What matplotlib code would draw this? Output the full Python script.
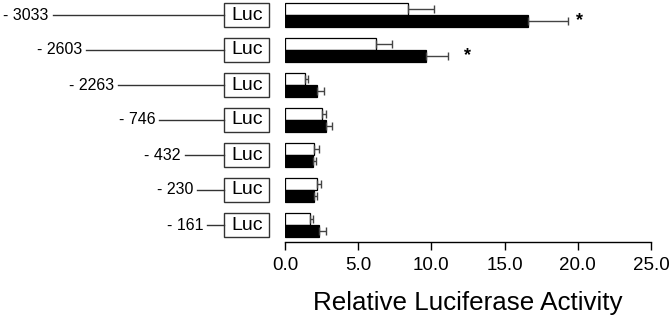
import matplotlib
matplotlib.use("Agg")
import matplotlib.pyplot as plt
import matplotlib.transforms as mtransforms
from matplotlib.patches import Rectangle
import numpy as np

plt.rcParams['font.family'] = ['Liberation Sans', 'DejaVu Sans']

# promoter constructs, top to bottom
constructs = ["- 3033", "- 2603", "- 2263", "- 746", "- 432", "- 230", "- 161"]
white_vals = [8.4, 6.2, 1.37, 2.53, 2.0, 2.16, 1.69]
white_err = [1.8, 1.13, 0.23, 0.27, 0.3, 0.3, 0.2]
black_vals = [16.6, 9.64, 2.2, 2.78, 1.91, 1.98, 2.3]
black_err = [2.7, 1.46, 0.49, 0.43, 0.21, 0.21, 0.5]
star_rows = [0, 1]
star_x = [20.1, 12.5]
xticks = [0, 5, 10, 15, 20, 25]


def main():
    fig = plt.figure(figsize=(6.71, 3.21), dpi=100)
    ax = fig.add_axes([285 / 671, 79 / 321, 366 / 671, 242 / 321])

    y = np.arange(len(constructs))
    h = 0.33
    ax.barh(y - h / 2, white_vals, height=h, color="white", edgecolor="black", linewidth=0.9,
            xerr=[np.zeros(len(y)), white_err], error_kw=dict(ecolor="#444444", elinewidth=1, capsize=3, capthick=1))
    ax.barh(y + h / 2, black_vals, height=h, color="black", edgecolor="black", linewidth=0.9,
            xerr=[np.zeros(len(y)), black_err], error_kw=dict(ecolor="#444444", elinewidth=1, capsize=3, capthick=1))

    for r, sx in zip(star_rows, star_x):
        ax.text(sx, r + h / 2, "*", ha="center", va="center", fontsize=13, fontweight="bold")

    ax.set_xlim(0, 25)
    ax.set_ylim(6 + 17 / 35, -15 / 35)
    ax.set_xticks(xticks)
    ax.set_xticklabels([f"{t:.1f}" for t in xticks], fontsize=13.5)
    ax.set_yticks([])
    for s in ["top", "right", "left"]:
        ax.spines[s].set_visible(False)
    ax.tick_params(axis="x", length=6, width=1, pad=5)
    ax.spines["bottom"].set_linewidth(1)
    ax.set_xlabel("Relative Luciferase Activity", fontsize=18.7, labelpad=12)

    # schematic of promoter constructs on the left
    trans = mtransforms.blended_transform_factory(fig.transFigure, ax.transData)
    line_start = [52.7, 86, 118, 159.3, 185, 197.3, 207.3]
    box_l, box_r = 224.3, 269.3
    box_h = 24 / 35
    for i, lab in enumerate(constructs):
        ax.plot([line_start[i] / 671, box_l / 671], [i, i], color="#333333", lw=1,
                transform=trans, clip_on=False)
        ax.text((line_start[i] - 4) / 671, i, lab, ha="right", va="center", fontsize=11.5,
                transform=trans)
        ax.add_patch(Rectangle((box_l / 671, i - box_h / 2), (box_r - box_l) / 671, box_h,
                               transform=trans, clip_on=False, fc="white", ec="#333333", lw=1))
        ax.text((box_l + box_r) / 2 / 671, i, "Luc", ha="center", va="center", fontsize=14,
                transform=trans)

    fig.savefig("out.png", dpi=100)


if __name__ == '__main__':
    main()
